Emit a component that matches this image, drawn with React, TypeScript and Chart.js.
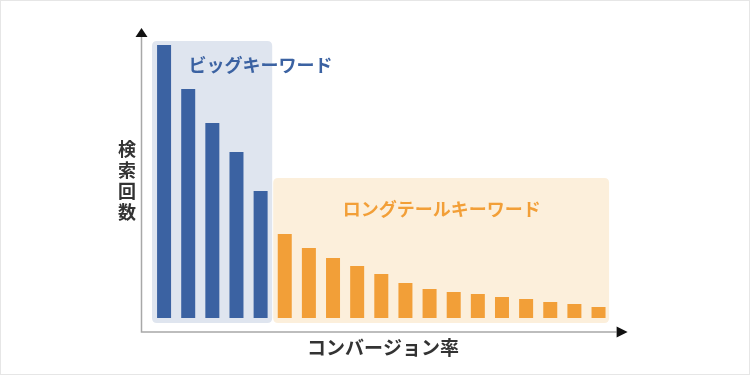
import React, { useEffect, useRef } from "react";
import { Chart, registerables } from "chart.js";

Chart.register(...registerables);

const categories = [
  "K1", "K2", "K3", "K4", "K5", "K6", "K7", "K8", "K9", "K10",
  "K11", "K12", "K13", "K14", "K15", "K16", "K17", "K18", "K19",
];
const bigKeywordValues = [273, 229, 195, 166, 127];
const longTailValues = [84, 70, 60, 52, 44, 35, 29, 26, 24, 21, 19, 16, 14, 11];
const bigBandTop = 277;
const longBandTop = 140;
const bigLabel = "ビッグキーワード";
const longLabel = "ロングテールキーワード";
const yTitle = "検索回数";
const xTitle = "コンバージョン率";

const BLUE = "#3b62a2";
const BLUE_BAND = "#dfe5ef";
const ORANGE = "#f29f38";
const ORANGE_BAND = "#fcefdb";
const FONT = '"Noto Sans CJK JP", "Noto Sans", sans-serif';

function roundRect(ctx: CanvasRenderingContext2D, x: number, y: number, w: number, h: number, r: number) {
  ctx.beginPath();
  ctx.moveTo(x + r, y);
  ctx.lineTo(x + w - r, y);
  ctx.quadraticCurveTo(x + w, y, x + w, y + r);
  ctx.lineTo(x + w, y + h - r);
  ctx.quadraticCurveTo(x + w, y + h, x + w - r, y + h);
  ctx.lineTo(x + r, y + h);
  ctx.quadraticCurveTo(x, y + h, x, y + h - r);
  ctx.lineTo(x, y + r);
  ctx.quadraticCurveTo(x, y, x + r, y);
  ctx.closePath();
}

const decorPlugin = {
  id: "decor",
  beforeDraw(chart: any) {
    const ctx = chart.ctx as CanvasRenderingContext2D;
    ctx.save();
    ctx.fillStyle = "#ffffff";
    ctx.fillRect(0, 0, chart.width, chart.height);
    ctx.strokeStyle = "#e6e6e6";
    ctx.lineWidth = 1;
    ctx.strokeRect(0.5, 0.5, chart.width - 1, chart.height - 1);
    ctx.restore();
  },
  beforeDatasetsDraw(chart: any) {
    const ctx = chart.ctx as CanvasRenderingContext2D;
    const x = chart.scales.x;
    const y = chart.scales.y;
    const area = chart.chartArea;
    const half = (x.getPixelForValue(1) - x.getPixelForValue(0)) / 2;
    const nBig = bigKeywordValues.length;
    const bottom = area.bottom + 5;
    ctx.save();
    // blue band
    const bl = x.getPixelForValue(0) - half;
    const br = x.getPixelForValue(nBig - 1) + half - 0.5;
    const bt = y.getPixelForValue(bigBandTop);
    ctx.fillStyle = BLUE_BAND;
    roundRect(ctx, bl, bt, br - bl, bottom - bt, 5);
    ctx.fill();
    // orange band
    const ol = br + 1;
    const or = x.getPixelForValue(categories.length - 1) + half - 1.5;
    const ot = y.getPixelForValue(longBandTop);
    ctx.fillStyle = ORANGE_BAND;
    roundRect(ctx, ol, ot, or - ol, bottom - ot, 5);
    ctx.fill();
    ctx.restore();
  },
  afterDraw(chart: any) {
    const ctx = chart.ctx as CanvasRenderingContext2D;
    const x = chart.scales.x;
    const y = chart.scales.y;
    const area = chart.chartArea;
    const half = (x.getPixelForValue(1) - x.getPixelForValue(0)) / 2;
    const nBig = bigKeywordValues.length;
    ctx.save();
    // axes
    const ax = area.left - 10.5;
    const ay = area.bottom + 14;
    ctx.strokeStyle = "#a8a8a8";
    ctx.lineWidth = 1.5;
    ctx.beginPath();
    ctx.moveTo(ax, 36);
    ctx.lineTo(ax, ay);
    ctx.lineTo(area.right + 6, ay);
    ctx.stroke();
    ctx.fillStyle = "#111111";
    ctx.beginPath();
    ctx.moveTo(ax, 28);
    ctx.lineTo(ax + 6, 37);
    ctx.lineTo(ax - 6, 37);
    ctx.closePath();
    ctx.fill();
    ctx.beginPath();
    ctx.moveTo(area.right + 17, ay);
    ctx.lineTo(area.right + 6, ay - 5.5);
    ctx.lineTo(area.right + 6, ay + 5.5);
    ctx.closePath();
    ctx.fill();

    // band labels
    ctx.font = `bold 18px ${FONT}`;
    ctx.textAlign = "center";
    ctx.textBaseline = "middle";
    ctx.fillStyle = BLUE;
    ctx.fillText(bigLabel, x.getPixelForValue(nBig - 1), y.getPixelForValue(bigBandTop) + 24);
    ctx.fillStyle = ORANGE;
    const ol = x.getPixelForValue(nBig) - half;
    const or = x.getPixelForValue(categories.length - 1) + half;
    ctx.fillText(longLabel, (ol + or) / 2, y.getPixelForValue(longBandTop) + 31);

    // axis titles
    ctx.fillStyle = "#333333";
    ctx.font = `bold 18px ${FONT}`;
    const chars = Array.from(yTitle);
    const step = 21;
    const cy = 181;
    chars.forEach((c, i) => {
      ctx.fillText(c, 127, cy + (i - (chars.length - 1) / 2) * step);
    });
    ctx.font = `bold 19px ${FONT}`;
    ctx.fillText(xTitle, 383, 348);
    ctx.restore();
  },
};

export default function App() {
  const canvasRef = useRef<HTMLCanvasElement | null>(null);

  useEffect(() => {
    document.body.style.margin = "0";
    const canvas = canvasRef.current;
    if (!canvas) return;
    const n = categories.length;
    const bigData = categories.map((_, i) => (i < bigKeywordValues.length ? bigKeywordValues[i] : null));
    const longData = categories.map((_, i) =>
      i >= bigKeywordValues.length ? longTailValues[i - bigKeywordValues.length] : null
    );
    const chart = new Chart(canvas, {
      type: "bar",
      data: {
        labels: categories,
        datasets: [
          {
            label: bigLabel,
            data: bigData,
            backgroundColor: BLUE,
            grouped: false,
            barPercentage: 0.58,
            categoryPercentage: 1,
          } as any,
          {
            label: longLabel,
            data: longData,
            backgroundColor: ORANGE,
            grouped: false,
            barPercentage: 0.58,
            categoryPercentage: 1,
          } as any,
        ],
      },
      options: {
        animation: false,
        responsive: false,
        maintainAspectRatio: false,
        layout: { padding: { left: 152, right: 139.4, top: 41, bottom: 57 } },
        plugins: { legend: { display: false }, tooltip: { enabled: false }, title: { display: false } },
        scales: {
          x: { display: false, offset: true },
          y: { display: false, min: 0, max: bigBandTop },
        },
      },
      plugins: [decorPlugin],
    });
    void n;
    return () => chart.destroy();
  }, []);

  return (
    <div style={{ position: "absolute", left: 0, top: 0, width: 750, height: 375 }}>
      <canvas ref={canvasRef} width={750} height={375} style={{ width: 750, height: 375 }} />
    </div>
  );
}
